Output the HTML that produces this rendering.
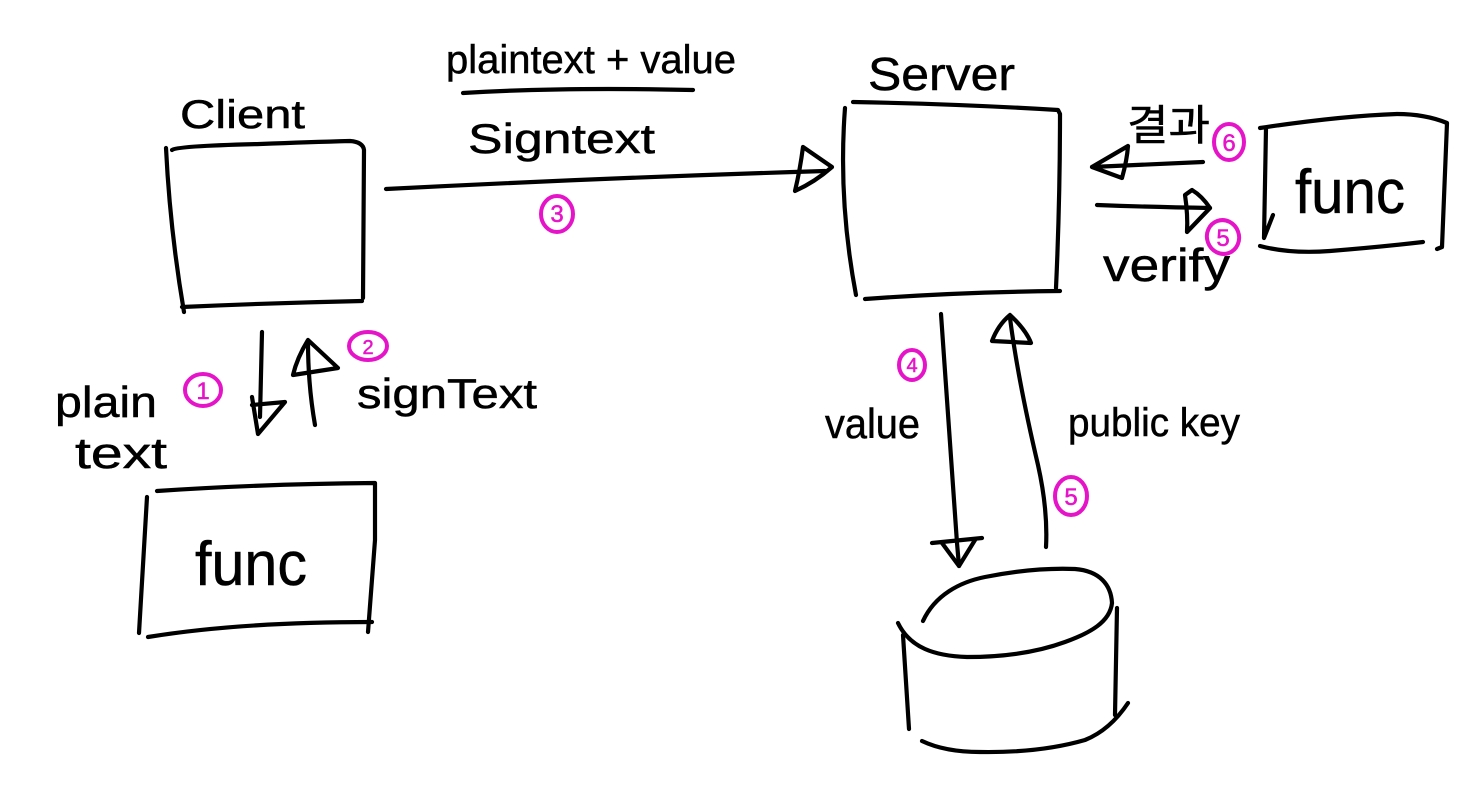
<!DOCTYPE html>
<html>
<head>
<meta charset="utf-8">
<style>
html,body{margin:0;padding:0;background:#fff;width:1472px;height:800px;overflow:hidden}
svg{display:block}
.l{fill:none;stroke:#000;stroke-width:4.2;stroke-linecap:round;stroke-linejoin:round}
.m{fill:none;stroke:#e614c8;stroke-width:4;stroke-linecap:round;stroke-linejoin:round}
text{font-family:"Liberation Sans","Noto Sans CJK KR",sans-serif;fill:#000;stroke:#000;stroke-width:.5}
text.n{fill:#e614c8;stroke:#e614c8;font-size:24px;text-anchor:middle}
</style>
</head>
<body>
<svg width="1472" height="800" viewBox="0 0 1472 800" xmlns="http://www.w3.org/2000/svg">
<rect width="1472" height="800" fill="#fff"/>

<!-- Client box -->
<path class="l" d="M172 150 Q176 146 260 144 Q310 142 350 141 Q363 142 364 150 L363 298"/>
<path class="l" d="M166 148 Q170 230 184 312"/>
<path class="l" d="M182 307 Q270 303 362 301"/>

<!-- Server box -->
<path class="l" d="M853 102 Q960 104 1058 110 L1060 114 Q1060 200 1056 288"/>
<path class="l" d="M845 108 Q838 200 856 295"/>
<path class="l" d="M865 299 Q960 292 1060 291"/>

<!-- Arrow 3 -->
<path class="l" d="M386 189 Q600 178 825 171"/>
<path class="l" d="M803 147 L832 167 Q815 182 795 191 Q800 170 803 147"/>

<!-- Underline -->
<path class="l" d="M463 93 Q560 87 693 90"/>

<!-- Right func box -->
<path class="l" d="M1260 128 Q1340 116 1397 114 Q1425 114 1447 123 L1442 247 L1437 249"/>
<path class="l" d="M1266 128 L1264 238 L1273 215"/>
<path class="l" d="M1260 246 Q1290 254 1330 251 Q1380 247 1423 242"/>

<!-- Result / verify arrows -->
<path class="l" d="M1203 162 L1092 167"/>
<path class="l" d="M1128 146 L1092 167 L1122 178 Q1127 160 1128 146"/>
<path class="l" d="M1097 205 Q1150 207 1210 208"/>
<path class="l" d="M1192 190 L1185 195 Q1188 215 1187 232 L1210 208 Q1202 196 1192 190"/>

<!-- Left down/up arrows -->
<path class="l" d="M262 332 L260 417"/>
<path class="l" d="M252 397 L258 434 L285 402 L252 405"/>
<path class="l" d="M315 425 Q308 385 308 342"/>
<path class="l" d="M308 340 L338 368 L293 375 Q297 358 308 340"/>

<!-- Left func box -->
<path class="l" d="M157 491 Q260 484 375 483 L375 540 L368 632"/>
<path class="l" d="M147 497 L139 633"/>
<path class="l" d="M148 637 Q240 622 372 622"/>

<!-- Value arrow -->
<path class="l" d="M941 314 L957 543 L959 566"/>
<path class="l" d="M932 543 L982 538"/>
<path class="l" d="M942 543 L959 566 L975 540"/>

<!-- Public key arrow -->
<path class="l" d="M1046 547 Q1048 510 1038 465 Q1018 380 1010 318"/>
<path class="l" d="M992 341 L1031 343 Q1026 330 1010 315 Q998 325 992 341"/>

<!-- Cylinder -->
<path class="l" d="M923 621 C935 595 960 582 985 577 C1020 570 1050 568 1075 569 C1100 571 1111 585 1112 603 C1110 622 1090 633 1065 642 C1035 653 1000 657 967 657 C935 656 910 648 898 623"/>
<path class="l" d="M903 635 L909 729"/>
<path class="l" d="M1117 608 L1115 715"/>
<path class="l" d="M922 741 Q945 752 980 752 Q1040 753 1085 740 Q1110 730 1128 703"/>

<!-- Magenta circles -->
<ellipse class="m" cx="203" cy="390" rx="18" ry="16"/>
<ellipse class="m" cx="368" cy="346" rx="19" ry="14"/>
<ellipse class="m" cx="557" cy="214" rx="16" ry="18"/>
<ellipse class="m" cx="912" cy="365" rx="13" ry="15"/>
<ellipse class="m" cx="1071" cy="496" rx="16" ry="19"/>
<ellipse class="m" cx="1229" cy="142" rx="15" ry="18"/>
<ellipse class="m" cx="1223" cy="237" rx="16" ry="17" transform="rotate(-20 1223 237)"/>
<text class="n" x="203" y="399">1</text>
<text class="n" x="368" y="354" style="font-size:20px">2</text>
<text class="n" x="557" y="222">3</text>
<text class="n" x="912" y="372" style="font-size:20px">4</text>
<text class="n" x="1071" y="505">5</text>
<text class="n" x="1229" y="151">6</text>
<text class="n" x="1223" y="246">5</text>

<!-- Labels -->
<text x="446" y="73" font-size="40" textLength="290" lengthAdjust="spacingAndGlyphs">plaintext + value</text>
<text x="468" y="153" font-size="42" textLength="187" lengthAdjust="spacingAndGlyphs">Signtext</text>
<text x="180" y="128" font-size="40" textLength="125" lengthAdjust="spacingAndGlyphs">Client</text>
<text x="868" y="90" font-size="46" textLength="147" lengthAdjust="spacingAndGlyphs">Server</text>
<text x="1127" y="140" font-size="42" textLength="83" lengthAdjust="spacingAndGlyphs">결과</text>
<text x="1295" y="213" font-size="62" textLength="110" lengthAdjust="spacingAndGlyphs">func</text>
<text x="1103" y="281" font-size="46" textLength="127" lengthAdjust="spacingAndGlyphs">verify</text>
<text x="55" y="417" font-size="44" textLength="102" lengthAdjust="spacingAndGlyphs">plain</text>
<text x="75" y="468" font-size="44" textLength="92" lengthAdjust="spacingAndGlyphs">text</text>
<text x="357" y="408" font-size="42" textLength="180" lengthAdjust="spacingAndGlyphs">signText</text>
<text x="195" y="585" font-size="62" textLength="112" lengthAdjust="spacingAndGlyphs">func</text>
<text x="825" y="438" font-size="42" textLength="95" lengthAdjust="spacingAndGlyphs">value</text>
<text x="1068" y="436" font-size="40" textLength="172" lengthAdjust="spacingAndGlyphs">public key</text>
</svg>
</body>
</html>
